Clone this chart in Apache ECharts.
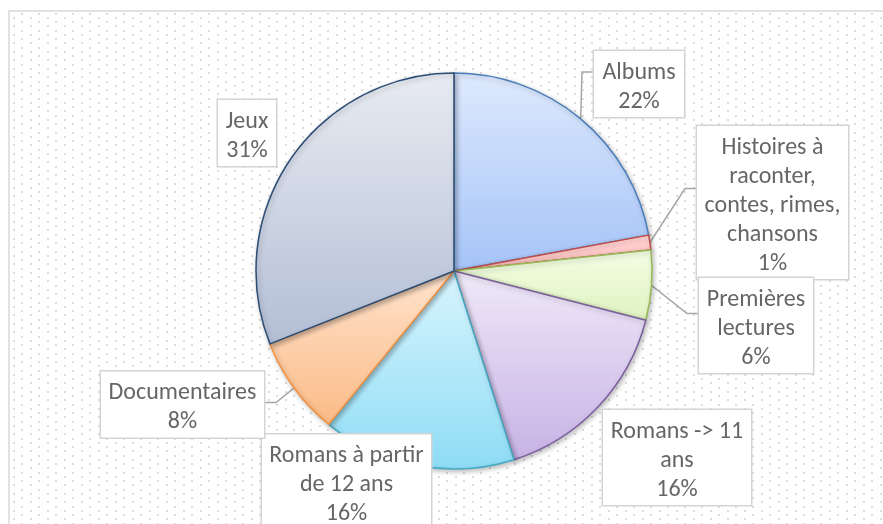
<!DOCTYPE html>
<html><head><meta charset="utf-8">
<script src="https://cdn.jsdelivr.net/npm/echarts@6/dist/echarts.min.js"></script>
<style>html,body{margin:0;padding:0;background:#fff}#c{width:883px;height:524px}</style>
</head><body><div id="c"></div>
<script>
// ---- data ----
var categories = ['Albums', 'Histoires à raconter, contes, rimes, chansons', 'Premières lectures',
  'Romans -> 11 ans', 'Romans à partir de 12 ans', 'Documentaires', 'Jeux'];
var labelTexts = ['Albums', 'Histoires à\nraconter,\ncontes, rimes,\nchansons', 'Premières\nlectures',
  'Romans -> 11\nans', 'Romans à partir\nde 12 ans', 'Documentaires', 'Jeux'];
var shares = [22.1, 1.2, 5.7, 16.1, 15.8, 8.1, 31.0];

// ---- styles / layout ----
var palette = [
  { top: '#dee9fd', bottom: '#a4c3f7', border: '#4a7ebb' },
  { top: '#ffd3d3', bottom: '#ffbfbf', border: '#be4b48' },
  { top: '#f3fde4', bottom: '#dff3c0', border: '#98b954' },
  { top: '#efe9f8', bottom: '#c7b2e5', border: '#7d60a0' },
  { top: '#d8f5fe', bottom: '#8edcf5', border: '#46aac5' },
  { top: '#ffe3cd', bottom: '#fbbb86', border: '#f69240' },
  { top: '#e8ebf2', bottom: '#b3bed5', border: '#2c4d75' }
];
var CENTER = [454, 271], RADIUS = 198;
var LINE_H = 29, PAD_T = 7, PAD_B = 1;
// label box centre, box width, leader-line side and attach offset
var labelBoxes = [
  { x: 639, y: 84, w: 90, side: 'right', hit: -12 },
  { x: 772.5, y: 202.5, w: 151, side: 'right', hit: -14 },
  { x: 756, y: 325.5, w: 114, side: 'right', hit: -12 },
  { x: 677, y: 457.5, w: 148, side: null },
  { x: 346.5, y: 482, w: 169, side: null },
  { x: 182.5, y: 404.5, w: 163, side: 'left', hit: -2 },
  { x: 247, y: 133, w: 58, side: null }
];

var total = shares.reduce(function (a, b) { return a + b; }, 0);
var midAngles = [];
(function () { var acc = 0; shares.forEach(function (v) { midAngles.push((acc + v / 2) / total * 2 * Math.PI); acc += v; }); })();

// dotted background pattern
var tile = document.createElement('canvas');
tile.width = 17; tile.height = 17;
var tc = tile.getContext('2d');
tc.fillStyle = '#dcdcdc';
[[4, 4], [4, 12.5], [12.5, 8.25], [12.5, 0]].forEach(function (p) { tc.fillRect(Math.round(p[0]), Math.round(p[1]), 2, 2); });

var chart = echarts.init(document.getElementById('c'), null, { renderer: 'canvas' });

var data = categories.map(function (name, i) {
  var c = palette[i];
  return {
    name: name,
    value: shares[i],
    itemStyle: {
      color: new echarts.graphic.LinearGradient(0, 0, 0, 1, [
        { offset: 0, color: c.top }, { offset: 1, color: c.bottom }]),
      borderColor: c.border,
      borderWidth: 1.5
    },
    label: { width: labelBoxes[i].w },
    labelLine: { show: !!labelBoxes[i].side }
  };
});

chart.setOption({
  animation: false,
  backgroundColor: '#ffffff',
  graphic: [{
    type: 'rect', z: -10,
    shape: { x: 9, y: 11, width: 900, height: 540 },
    style: { fill: { image: tile, repeat: 'repeat' }, stroke: '#d9d9d9', lineWidth: 1.5 }
  }],
  series: [{
    type: 'pie',
    center: CENTER,
    radius: RADIUS,
    startAngle: 90,
    clockwise: true,
    avoidLabelOverlap: false,
    emphasis: { disabled: true },
    itemStyle: { shadowBlur: 5, shadowColor: 'rgba(0,0,0,0.25)', shadowOffsetX: 1.5, shadowOffsetY: 2 },
    label: {
      show: true,
      position: 'outside',
      formatter: function (p) { return labelTexts[p.dataIndex] + '\n' + Math.round(p.percent) + '%'; },
      fontFamily: 'Carlito, Lato, "Open Sans", sans-serif',
      fontWeight: 300,
      fontSize: 24,
      lineHeight: LINE_H,
      color: '#666666',
      align: 'center',
      backgroundColor: '#ffffff',
      borderColor: '#d4d4d4',
      borderWidth: 1.5,
      padding: [PAD_T, 0, PAD_B, 0]
    },
    labelLine: { show: true, lineStyle: { color: '#a6a6a6', width: 1.5 } },
    labelLayout: function (p) {
      var i = p.dataIndex, b = labelBoxes[i];
      var nLines = labelTexts[i].split('\n').length + 1;
      var boxH = nLines * LINE_H + PAD_T + PAD_B;
      var out = { x: b.x, y: b.y - boxH / 2, align: 'center', verticalAlign: 'top' };
      if (b.side) {
        var a = midAngles[i];
        var p0 = [CENTER[0] + RADIUS * Math.sin(a), CENTER[1] - RADIUS * Math.cos(a)];
        var edge = b.side === 'right' ? b.x - b.w / 2 : b.x + b.w / 2;
        var hy = b.y + b.hit;
        var bend = [edge + (b.side === 'right' ? -12 : 12), hy];
        out.labelLinePoints = [p0, bend, [edge, hy]];
      }
      return out;
    },
    data: data
  }]
});
</script></body></html>
